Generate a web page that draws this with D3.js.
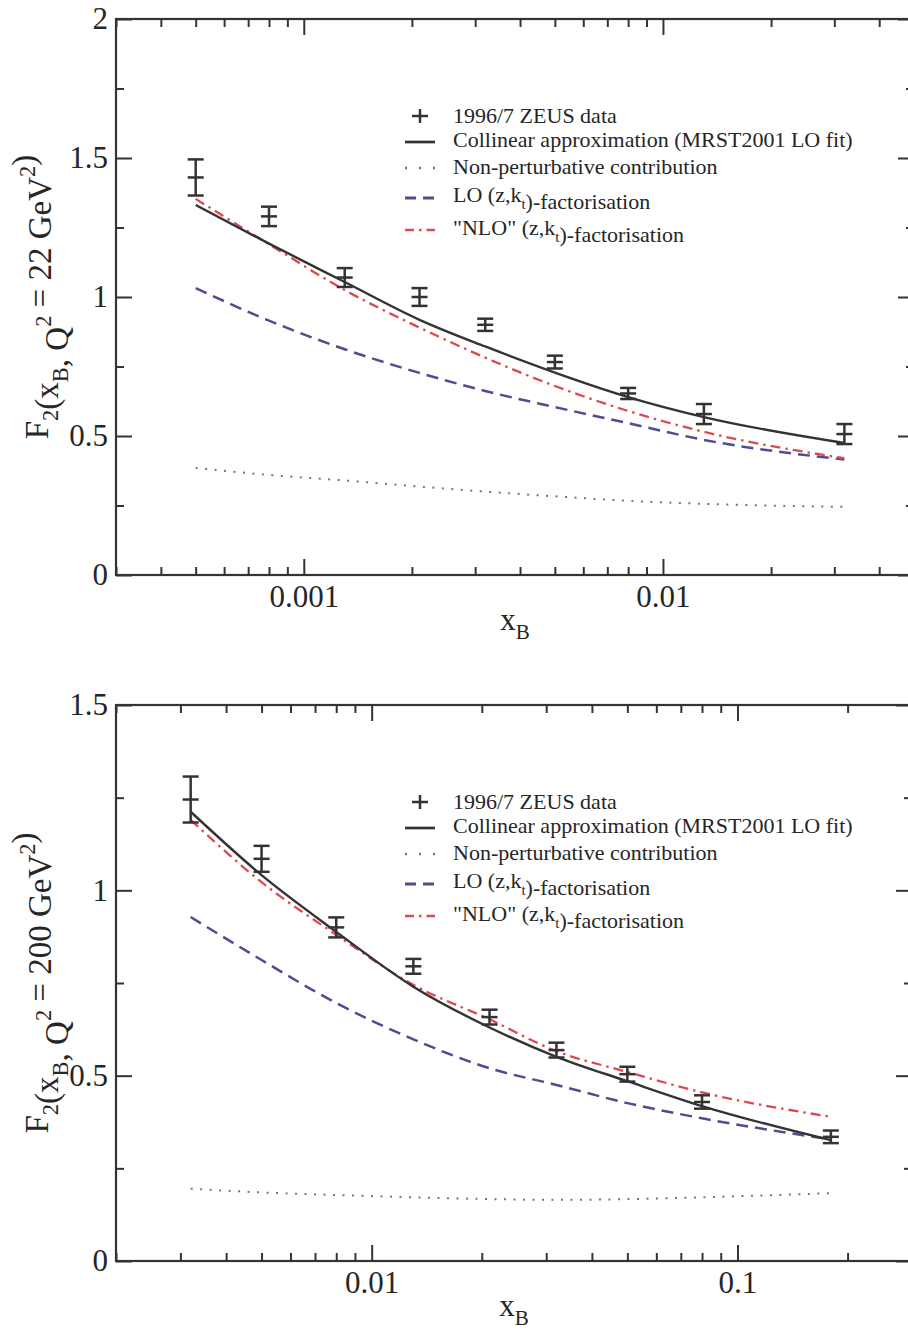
<!DOCTYPE html>
<html><head><meta charset="utf-8">
<script src="https://cdn.jsdelivr.net/npm/d3@7"></script>
<style>
html,body{margin:0;padding:0;background:#fff;}
svg{display:block;font-family:"Liberation Serif","Times New Roman",serif;}
</style></head><body>
<svg id="c" width="908" height="1331"></svg>
<script>
// ---------- data: Q^2 = 22 GeV^2 ----------
const xTop = [5e-4, 8e-4, 1.3e-3, 2.1e-3, 3.2e-3, 5e-3, 8e-3, 1.3e-2, 3.2e-2];
const zeusTop = [1.43, 1.29, 1.07, 1.00, 0.90, 0.766, 0.653, 0.579, 0.507];
const zeusTopErr = [0.065, 0.035, 0.034, 0.032, 0.022, 0.023, 0.02, 0.036, 0.036];
const collinearTop = [1.331, 1.192, 1.054, 0.918, 0.822, 0.728, 0.64, 0.568, 0.475];
const nonpertTop = [0.385, 0.36, 0.34, 0.318, 0.30, 0.283, 0.267, 0.256, 0.245];
const loTop = [1.032, 0.915, 0.812, 0.727, 0.662, 0.604, 0.546, 0.486, 0.415];
const nloTop = [1.353, 1.19, 1.025, 0.89, 0.782, 0.68, 0.59, 0.515, 0.42];

// ---------- data: Q^2 = 200 GeV^2 ----------
const xBot = [3.2e-3, 5e-3, 8e-3, 1.3e-2, 2.1e-2, 3.2e-2, 5e-2, 8e-2, 0.18];
const zeusBot = [1.245, 1.085, 0.90, 0.795, 0.658, 0.569, 0.504, 0.429, 0.335];
const zeusBotErr = [0.062, 0.035, 0.027, 0.02, 0.02, 0.02, 0.02, 0.018, 0.017];
const collinearBot = [1.212, 1.041, 0.888, 0.74, 0.63, 0.551, 0.485, 0.418, 0.326];
const nonpertBot = [0.195, 0.185, 0.178, 0.172, 0.167, 0.165, 0.167, 0.172, 0.183];
const loBot = [0.928, 0.812, 0.696, 0.598, 0.52, 0.475, 0.426, 0.385, 0.328];
const nloBot = [1.19, 1.022, 0.88, 0.745, 0.652, 0.566, 0.51, 0.455, 0.389];

// ---------- ticks ----------
const yMajorTop = [0, 0.5, 1, 1.5, 2];
const yMinorTop = [0.25, 0.75, 1.25, 1.75];
const yMajorBot = [0, 0.5, 1, 1.5];
const yMinorBot = [0.25, 0.75, 1.25];
const xMajorTop = [0.001, 0.01];
const xMajorBot = [0.01, 0.1];
const xTickLabelsTop = ["0.001", "0.01"];
const xTickLabelsBot = ["0.01", "0.1"];
const yTickLabelsTop = ["0", "0.5", "1", "1.5", "2"];
const yTickLabelsBot = ["0", "0.5", "1", "1.5"];

const legendLabels = [
  [["1996/7 ZEUS data", ""]],
  [["Collinear approximation (MRST2001 LO fit)", ""]],
  [["Non-perturbative contribution", ""]],
  [["LO (z,k", ""], ["t", "sub"], [")-factorisation", ""]],
  [["\"NLO\" (z,k", ""], ["t", "sub"], [")-factorisation", ""]]
];

// ---------- styles ----------
const INK = "#333";
const TXT = "#262626";
const styles = {
  collinear: {stroke: "#333", width: 2.4, dash: null, legDash: null},
  nonpert: {stroke: "#5f7f70", width: 2, dash: "2,7.5", legDash: "2,12"},
  lo: {stroke: "#4a4f8e", width: 2.5, dash: "12,7", legDash: "11,7"},
  nlo: {stroke: "#e04850", width: 2.3, dash: "10,5,2.5,5", legDash: "9,5,2.5,5"}
};

const svg = d3.select("#c");

function subText(sel, parts, baseSize) {
  parts.forEach(([t, kind]) => {
    if (kind === "sub") {
      sel.append("tspan").attr("dy", baseSize * 0.3).attr("font-size", baseSize * 0.68).text(t);
      sel.append("tspan").attr("dy", -baseSize * 0.3).text("");
    } else if (kind === "sup") {
      sel.append("tspan").attr("dy", -baseSize * 0.5).attr("font-size", baseSize * 0.68).text(t);
      sel.append("tspan").attr("dy", baseSize * 0.5).text("");
    } else {
      sel.append("tspan").text(t);
    }
  });
}

function panel(cfg) {
  const {x, y, xs, data, err, curves, yMajor, yMinor, xMajor, xLabels, yLabels, yLabelParts, top} = cfg;
  const g = svg.append("g");
  const [x0, x1] = x.range();
  const [y0, y1] = y.range();

  const tickStyle = sel => {
    sel.select(".domain").remove();
    sel.selectAll("line").attr("stroke", INK).attr("stroke-width", 2);
    sel.selectAll("text").attr("font-family", "Liberation Serif, Times New Roman, serif")
      .attr("font-size", 31).attr("fill", TXT);
  };
  const minorX = x.ticks().filter(v => !xMajor.some(m => Math.abs(m - v) / m < 1e-6));

  // bottom axis major + labels
  g.append("g").attr("transform", `translate(0,${y0})`)
    .call(d3.axisBottom(x).tickValues(xMajor).tickFormat((d, i) => xLabels[i]).tickSizeInner(-16).tickSizeOuter(0).tickPadding(10))
    .call(tickStyle);
  g.append("g").attr("transform", `translate(0,${y0})`)
    .call(d3.axisBottom(x).tickValues(minorX).tickFormat("").tickSizeInner(-8).tickSizeOuter(0))
    .call(tickStyle);
  // top axis
  g.append("g").attr("transform", `translate(0,${y1})`)
    .call(d3.axisTop(x).tickValues(xMajor).tickFormat("").tickSizeInner(-16).tickSizeOuter(0))
    .call(tickStyle);
  g.append("g").attr("transform", `translate(0,${y1})`)
    .call(d3.axisTop(x).tickValues(minorX).tickFormat("").tickSizeInner(-8).tickSizeOuter(0))
    .call(tickStyle);
  // left axis
  g.append("g").attr("transform", `translate(${x0},0)`)
    .call(d3.axisLeft(y).tickValues(yMajor).tickFormat((d, i) => yLabels[i]).tickSizeInner(-16).tickSizeOuter(0).tickPadding(8))
    .call(tickStyle);
  g.append("g").attr("transform", `translate(${x0},0)`)
    .call(d3.axisLeft(y).tickValues(yMinor).tickFormat("").tickSizeInner(-8).tickSizeOuter(0))
    .call(tickStyle);
  // right axis
  g.append("g").attr("transform", `translate(${x1},0)`)
    .call(d3.axisRight(y).tickValues(yMajor).tickFormat("").tickSizeInner(-16).tickSizeOuter(0))
    .call(tickStyle);
  g.append("g").attr("transform", `translate(${x1},0)`)
    .call(d3.axisRight(y).tickValues(yMinor).tickFormat("").tickSizeInner(-8).tickSizeOuter(0))
    .call(tickStyle);

  // frame
  g.append("rect").attr("x", x0).attr("y", y1).attr("width", x1 - x0).attr("height", y0 - y1)
    .attr("fill", "none").attr("stroke", INK).attr("stroke-width", 2.2);

  // curves
  const line = d3.line().curve(d3.curveMonotoneX).x((d, i) => x(xs[i])).y(d => y(d));
  curves.forEach(([vals, st]) => {
    g.append("path").attr("d", line(vals)).attr("fill", "none")
      .attr("stroke", st.stroke).attr("stroke-width", st.width)
      .attr("stroke-dasharray", st.dash).attr("stroke-linejoin", "round");
  });

  // data with error bars
  const eb = g.append("g").attr("stroke", INK).attr("stroke-width", 2.5);
  data.forEach((v, i) => {
    const px = x(xs[i]);
    const yt = y(v + err[i]), yb = y(v - err[i]), yc = y(v);
    eb.append("line").attr("x1", px).attr("x2", px).attr("y1", yt).attr("y2", yb);
    [yt, yc, yb].forEach(yy => eb.append("line").attr("x1", px - 8).attr("x2", px + 8).attr("y1", yy).attr("y2", yy));
  });

  // legend
  const symX = 420, txtX = 453;
  const baseOff = [104, 128, 155, 183, 216];
  const symOff = [97, 123, 149, 179, 211];
  const legStyles = [null, styles.collinear, styles.nonpert, styles.lo, styles.nlo];
  legendLabels.forEach((parts, i) => {
    const sy = top + symOff[i];
    if (i === 0) {
      g.append("line").attr("x1", symX - 8).attr("x2", symX + 8).attr("y1", sy).attr("y2", sy).attr("stroke", INK).attr("stroke-width", 2.5);
      g.append("line").attr("x1", symX).attr("x2", symX).attr("y1", sy - 7).attr("y2", sy + 7).attr("stroke", INK).attr("stroke-width", 2.5);
    } else {
      const st = legStyles[i];
      g.append("line").attr("x1", symX - 15).attr("x2", symX + 15).attr("y1", sy).attr("y2", sy)
        .attr("stroke", st.stroke).attr("stroke-width", st.width + 0.3).attr("stroke-dasharray", st.legDash);
    }
    const t = g.append("text").attr("x", txtX).attr("y", top + baseOff[i]).attr("font-size", 22).attr("fill", TXT);
    subText(t, parts, 22);
  });

  // axis labels
  const xl = g.append("text").attr("x", (x0 + Math.min(x1, 914)) / 2).attr("y", y0 + 55).attr("text-anchor", "middle")
    .attr("font-size", 31).attr("fill", TXT);
  subText(xl, [["x", ""], ["B", "sub"]], 31);
  const yl = g.append("text").attr("transform", `translate(48,${(y0 + y1) / 2}) rotate(-90)`)
    .attr("text-anchor", "middle").attr("font-size", 33).attr("fill", TXT);
  subText(yl, yLabelParts, 33);
}

const topX = d3.scaleLog().domain([3e-4, 0.05]).range([116, 914]);
const topY = d3.scaleLinear().domain([0, 2]).range([575, 19]);
const botX = d3.scaleLog().domain([2e-3, 0.3]).range([116, 912]);
const botY = d3.scaleLinear().domain([0, 1.5]).range([1261, 705]);

panel({
  x: topX, y: topY, xs: xTop, data: zeusTop, err: zeusTopErr, top: 19,
  curves: [[nonpertTop, styles.nonpert], [loTop, styles.lo], [nloTop, styles.nlo], [collinearTop, styles.collinear]],
  yMajor: yMajorTop, yMinor: yMinorTop, xMajor: xMajorTop, xLabels: xTickLabelsTop, yLabels: yTickLabelsTop,
  yLabelParts: [["F", ""], ["2", "sub"], ["(x", ""], ["B", "sub"], [", Q", ""], ["2", "sup"], [" = 22 GeV", ""], ["2", "sup"], [")", ""]]
});
panel({
  x: botX, y: botY, xs: xBot, data: zeusBot, err: zeusBotErr, top: 705,
  curves: [[nonpertBot, styles.nonpert], [loBot, styles.lo], [nloBot, styles.nlo], [collinearBot, styles.collinear]],
  yMajor: yMajorBot, yMinor: yMinorBot, xMajor: xMajorBot, xLabels: xTickLabelsBot, yLabels: yTickLabelsBot,
  yLabelParts: [["F", ""], ["2", "sub"], ["(x", ""], ["B", "sub"], [", Q", ""], ["2", "sup"], [" = 200 GeV", ""], ["2", "sup"], [")", ""]]
});
</script>
</body></html>
